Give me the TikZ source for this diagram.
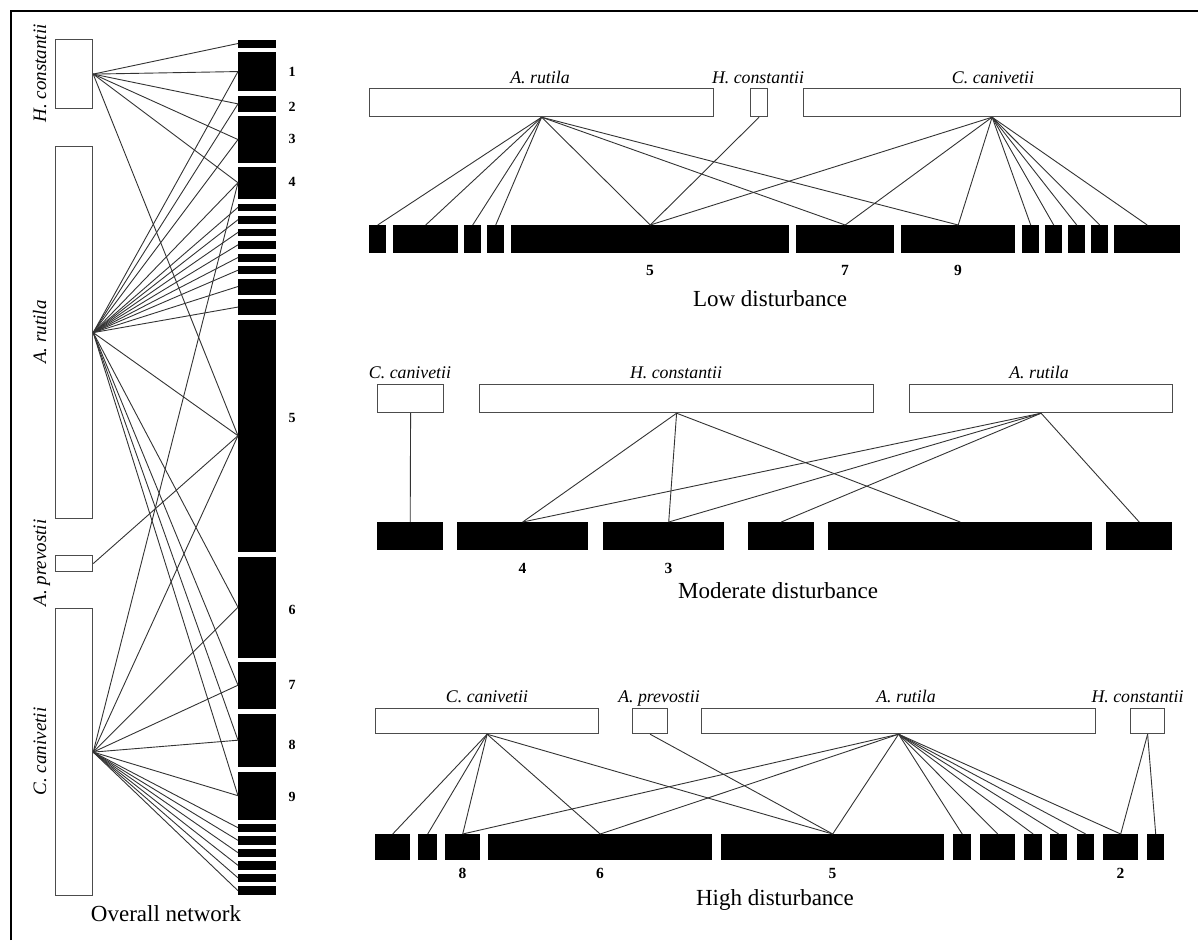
\documentclass[tikz,border=0pt]{standalone}
\usepackage{fontspec}
\setmainfont{Liberation Serif}
\usetikzlibrary{positioning}

\tikzset{
  spbox/.style={draw=black!70, line width=1.2pt, fill=white, inner sep=0pt, anchor=north west},
  plantbar/.style={fill=black, inner sep=0pt, anchor=north west},
  link/.style={black!80, line width=0.9pt},
  sptext/.style={font=\fontsize{17.8}{20}\selectfont\itshape, inner sep=0pt, anchor=base},
  vtext/.style={font=\fontsize{19}{22}\selectfont\itshape, inner sep=0pt, anchor=base, rotate=90},
  num/.style={font=\fontsize{15.5}{18}\selectfont\bfseries, inner sep=0pt, anchor=base},
  ttl/.style={font=\fontsize{23}{26}\selectfont, inner sep=0pt, anchor=base},
}

\begin{document}
\begin{tikzpicture}[x=1pt, y=-1pt]
\useasboundingbox (0,0) rectangle (1198,940);
\draw[line width=2pt] (10.5,940) -- (10.5,10.5) -- (1198,10.5);

% overall network
\foreach \n/\a/\b in {1/39.3/47.3, 2/51.7/91, 3/95.7/111.7, 4/116/162.7, 5/166.7/198.3,
  6/203.3/211, 7/215.7/223.3, 8/228.3/236, 9/241/248.3, 10/253.3/261.3, 11/266/274,
  12/278.3/294.3, 13/298.7/315, 14/319.3/551.7, 15/556.7/657.3, 16/661.7/708.3,
  17/713.3/766.7, 18/771.7/819.3, 19/823.3/831.7, 20/836/844.3, 21/848.3/856.7,
  22/861/869.3, 23/873.3/882, 24/886/895}
  \node[plantbar, minimum width=38pt, minimum height={(\b-\a)*1pt}] (B\n) at (238,\a) {};

\node[spbox, minimum width=37pt, minimum height=69pt] (oHc) at (55,39) {};
\node[spbox, minimum width=37pt, minimum height=372pt] (oAr) at (55,146) {};
\node[spbox, minimum width=37pt, minimum height=16pt] (oAp) at (55,555) {};
\node[spbox, minimum width=37pt, minimum height=287pt] (oCc) at (55,608) {};

\foreach \t in {1,2,3,4,5,14} \draw[link] (oHc.east) -- (B\t.west);
\foreach \t in {2,3,4,5,6,7,8,9,10,11,12,13,14,15,16,17,18} \draw[link] (oAr.east) -- (B\t.west);
\draw[link] (oAp.east) -- (B14.west);
\foreach \t in {5,14,15,16,17,18,19,20,21,22,23,24} \draw[link] (oCc.east) -- (B\t.west);

\node[vtext] (oHcT) at (46,73.5) {H. constantii};
\node[vtext] (oArT) at (46,332) {A. rutila};
\node[vtext] (oApT) at (46,563) {A. prevostii};
\node[vtext] (oCcT) at (46,751.5) {C. canivetii};

\foreach \k/\yb in {1/76, 2/111, 3/143, 4/186, 5/422, 6/614, 7/689, 8/749, 9/801}
  \node[num, font=\fontsize{14}{16}\selectfont\bfseries] (on\k) at (292,\yb) {\k};

\node[ttl] (oTitle) at (166,921) {Overall network};

% low disturbance
\foreach \n/\a/\b in {1/369/386, 2/393/458, 3/464/481, 4/487/504, 5/511/789, 6/796/894,
  7/901/1015, 8/1022/1039, 9/1045/1062, 10/1068/1085, 11/1091/1108, 12/1114/1180}
  \node[plantbar, minimum width={(\b-\a)*1pt}, minimum height=28pt] (L\n) at (\a,225) {};

\node[spbox, minimum width=344pt, minimum height=28pt] (lowAr) at (369,88) {};
\node[spbox, minimum width=17pt, minimum height=28pt] (lowHc) at (750,88) {};
\node[spbox, minimum width=377pt, minimum height=28pt] (lowCc) at (803,88) {};

\foreach \t in {1,...,7} \draw[link] (lowAr.south) -- (L\t.north);
\draw[link] (lowHc.south) -- (L5.north);
\foreach \t in {5,...,12} \draw[link] (lowCc.south) -- (L\t.north);

\node[sptext] (lowArT) at (540,83) {A. rutila};
\node[sptext] (lowHcT) at (758,83) {H. constantii};
\node[sptext] (lowCcT) at (993,83) {C. canivetii};

\node[num] (low5) at (650,275) {5};
\node[num] (low7) at (845,275) {7};
\node[num] (low9) at (958,275) {9};
\node[ttl] (lowTitle) at (770,306) {Low disturbance};

% moderate disturbance
\foreach \n/\a/\b in {1/377/443, 2/457/588, 3/603/724, 4/748/814, 5/828/1092, 6/1106/1172}
  \node[plantbar, minimum width={(\b-\a)*1pt}, minimum height=28pt] (M\n) at (\a,522) {};

\node[spbox, minimum width=66pt, minimum height=28pt] (modCc) at (377,384) {};
\node[spbox, minimum width=394pt, minimum height=28pt] (modHc) at (479,384) {};
\node[spbox, minimum width=263pt, minimum height=28pt] (modAr) at (909,384) {};

\draw[link] (modCc.south) -- (M1.north);
\foreach \t in {2,5} \draw[link] (modHc.south) -- (M\t.north);
\draw[link] (modHc.south) -- ([xshift=5pt]M3.north);
\foreach \t in {2,4,6} \draw[link] (modAr.south) -- (M\t.north);
\draw[link] (modAr.south) -- ([xshift=5pt]M3.north);

\node[sptext] (modCcT) at (410,378) {C. canivetii};
\node[sptext] (modHcT) at (676,378) {H. constantii};
\node[sptext] (modArT) at (1039,378) {A. rutila};

\node[num] (mod4) at (522.5,573) {4};
\node[num] (mod3) at (668.5,573) {3};
\node[ttl] (modTitle) at (778,598) {Moderate disturbance};

% high disturbance
\foreach \n/\a/\b in {1/375/410, 2/418/437, 3/445/480, 4/488/712, 5/721/944, 6/953/971,
  7/980/1015, 8/1024/1042, 9/1050/1067, 10/1077/1094, 11/1103/1138, 12/1147/1164}
  \node[plantbar, minimum width={(\b-\a)*1pt}, minimum height=26pt] (H\n) at (\a,834) {};

\node[spbox, minimum width=223pt, minimum height=25pt] (hiCc) at (375,708) {};
\node[spbox, minimum width=35pt, minimum height=25pt] (hiAp) at (632,708) {};
\node[spbox, minimum width=394pt, minimum height=25pt] (hiAr) at (701,708) {};
\node[spbox, minimum width=34pt, minimum height=25pt] (hiHc) at (1130,708) {};

\foreach \t in {1,...,5} \draw[link] (hiCc.south) -- (H\t.north);
\draw[link] (hiAp.south) -- (H5.north);
\foreach \t in {3,...,11} \draw[link] (hiAr.south) -- (H\t.north);
\foreach \t in {11,12} \draw[link] (hiHc.south) -- (H\t.north);

\node[sptext] (hiCcT) at (487,702) {C. canivetii};
\node[sptext] (hiApT) at (659,702) {A. prevostii};
\node[sptext] (hiArT) at (906,702) {A. rutila};
\node[sptext] (hiHcT) at (1137.5,702) {H. constantii};

\node[num] (hi8) at (462.5,878) {8};
\node[num] (hi6) at (600,878) {6};
\node[num] (hi5) at (832.5,878) {5};
\node[num] (hi2) at (1120.5,878) {2};
\node[ttl] (hiTitle) at (775,905) {High disturbance};

\end{tikzpicture}
\end{document}
